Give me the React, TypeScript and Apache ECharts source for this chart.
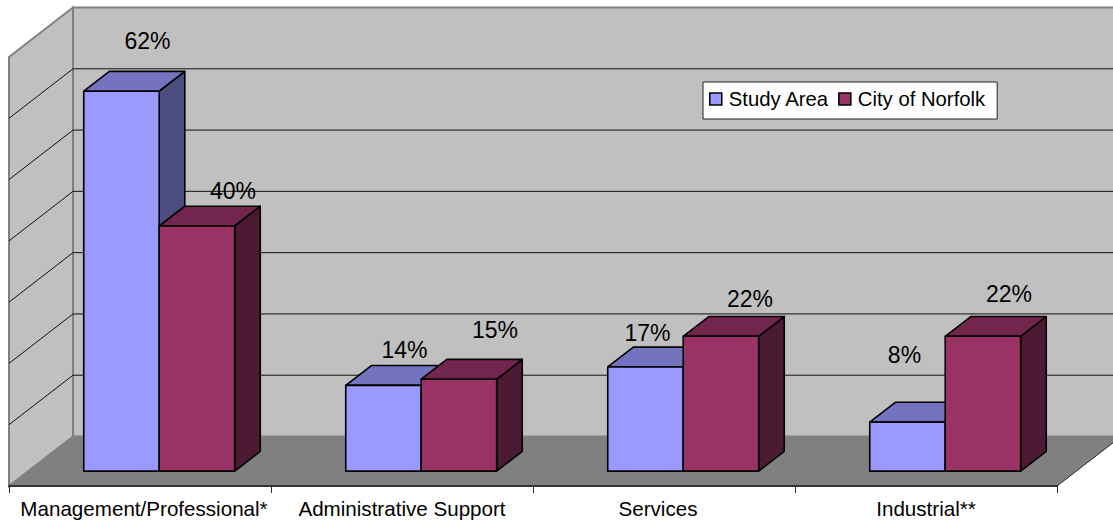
import React, { useEffect, useRef } from "react";
import * as echarts from "echarts";

const categories = ["Management/Professional*", "Administrative Support", "Services", "Industrial**"];
const studyArea = [62, 14, 17, 8];
const cityOfNorfolk = [40, 15, 22, 22];
const gridValues = [10, 20, 30, 40, 50, 60, 70];

// Hand-placed data labels, as offsets from the centre of each bar's top edge.
const studyLabelShift = [[26, -50], [21, -35], [2, -34], [-3, -67]];
const cityLabelShift = [[36, -35], [36, -49], [29, -37], [26, -42]];
// Nudges for the category captions, in px of left padding.
const captionPadding = [8, 0, -12, 0];

const FONT = '"Liberation Sans", Arial, sans-serif';
const DEPTH = [64, -49.5];
const BAR_NEAR = 0.3;
const BAR_FAR = 0.7;
const BAR_BAND = 0.288;

const shift = (p: number[], k: number) => [p[0] + DEPTH[0] * k, p[1] + DEPTH[1] * k];
const poly = (points: number[][], style: any) => ({ type: "polygon", shape: { points }, style });
const seg = (a: number[], b: number[], stroke: string, lineWidth: number) => ({
  type: "line",
  shape: { x1: a[0], y1: a[1], x2: b[0], y2: b[1] },
  style: { stroke, lineWidth },
});

// The room behind the bars: back wall, side wall, floor and gridlines.
function renderRoom(params: any, api: any) {
  const cs = params.coordSys;
  const left = cs.x;
  const right = cs.x + cs.width;
  const at = (x: number, v: number) => [x, api.coord([0, v])[1]];
  const bl = at(left, 0);
  const tl = at(left, 70);
  const br = at(right, 0);
  const tr = at(right, 70);
  const wall = { fill: "#C0C0C0", stroke: "#808080", lineWidth: 2 };
  const children: any[] = [
    poly([shift(tl, 1), shift(tr, 1), shift(br, 1), shift(bl, 1)], wall),
    poly([tl, shift(tl, 1), shift(bl, 1), bl], wall),
    poly([bl, shift(bl, 1), shift(br, 1), br], { fill: "#808080", stroke: "#808080", lineWidth: 1 }),
    seg(br, shift(br, 1), "#333333", 1),
  ];
  gridValues.slice(0, -1).forEach((v) => {
    const a = at(left, v);
    const b = at(right, v);
    children.push(seg(a, shift(a, 1), "#111111", 1));
    children.push(seg(shift(a, 1), shift(b, 1), "#111111", 1));
  });
  return { type: "group", children };
}

// One extruded column: side face, top face, front face, then its percentage.
function barRenderer(column: number, colors: string[], labelShift: number[][]) {
  return (params: any, api: any) => {
    const cat = api.value(0);
    const v = api.value(1);
    const band = api.size([1, 0])[0];
    const w = band * BAR_BAND;
    const cx = api.coord([cat, 0])[0];
    const x0 = cx + (column - 1) * w;
    const fl = shift([x0, api.coord([cat, 0])[1]], BAR_NEAR);
    const tl = shift([x0, api.coord([cat, v])[1]], BAR_NEAR);
    const fr = [fl[0] + w, fl[1]];
    const tr = [tl[0] + w, tl[1]];
    const k = BAR_FAR - BAR_NEAR;
    const edge = { stroke: "#000000", lineWidth: 1.6, lineJoin: "round" };
    const nudge = labelShift[cat];
    return {
      type: "group",
      children: [
        poly([tr, shift(tr, k), shift(fr, k), fr], { fill: colors[2], ...edge }),
        poly([tl, shift(tl, k), shift(tr, k), tr], { fill: colors[1], ...edge }),
        poly([tl, tr, fr, fl], { fill: colors[0], ...edge }),
        {
          type: "text",
          x: (tl[0] + tr[0]) / 2 + nudge[0],
          y: tl[1] + nudge[1],
          style: {
            text: `${v}%`,
            fill: "#000000",
            font: `23px ${FONT}`,
            align: "center",
            verticalAlign: "middle",
          },
        },
      ],
    };
  };
}

const toPoints = (values: number[]) => values.map((v, i) => [i, v]);

export default function App() {
  const ref = useRef<HTMLDivElement>(null);

  useEffect(() => {
    document.body.style.margin = "0";
    const chart = echarts.init(ref.current!, undefined, { renderer: "svg" });
    chart.setOption({
      animation: false,
      backgroundColor: "#FFFFFF",
      grid: { left: 9, right: 56, top: 57, height: 429 },
      legend: {
        left: 703,
        top: 82,
        padding: [7, 12, 10, 6],
        itemGap: 9,
        itemWidth: 12,
        itemHeight: 12,
        icon: "rect",
        backgroundColor: "#FFFFFF",
        borderColor: "#222222",
        borderWidth: 1,
        itemStyle: { borderColor: "#000000", borderWidth: 1.5 },
        textStyle: { color: "#000000", fontFamily: FONT, fontSize: 20.3, padding: [0, 0, 3, 2] },
        data: ["Study Area", "City of Norfolk"],
      },
      xAxis: {
        type: "category",
        data: categories.map((value, i) => ({
          value,
          textStyle: { padding: captionPadding[i] >= 0 ? [0, 0, 0, captionPadding[i]] : [0, -captionPadding[i], 0, 0] },
        })),
        z: 5,
        axisLine: { show: true, lineStyle: { color: "#333333", width: 2 } },
        axisTick: { show: true, length: 7, alignWithLabel: false, lineStyle: { color: "#333333", width: 1 } },
        axisLabel: { color: "#000000", fontFamily: FONT, fontSize: 20.6, margin: 12, interval: 0 },
      },
      yAxis: { type: "value", min: 0, max: 70, interval: 10, show: false },
      series: [
        {
          type: "custom",
          name: "room",
          silent: true,
          data: [[0, 0]],
          encode: { x: 0, y: 1 },
          renderItem: renderRoom,
          z: 1,
        },
        {
          type: "custom",
          name: "Study Area",
          data: toPoints(studyArea),
          encode: { x: 0, y: 1 },
          itemStyle: { color: "#9999FF" },
          renderItem: barRenderer(0, ["#9999FF", "#7373BF", "#4D4D80"], studyLabelShift),
          z: 2,
        },
        {
          type: "custom",
          name: "City of Norfolk",
          data: toPoints(cityOfNorfolk),
          encode: { x: 0, y: 1 },
          itemStyle: { color: "#993366" },
          renderItem: barRenderer(1, ["#993366", "#73264D", "#4D1A33"], cityLabelShift),
          z: 3,
        },
      ],
    });
    return () => chart.dispose();
  }, []);

  return <div ref={ref} style={{ position: "absolute", left: 0, top: 0, width: 1113, height: 523 }} />;
}
